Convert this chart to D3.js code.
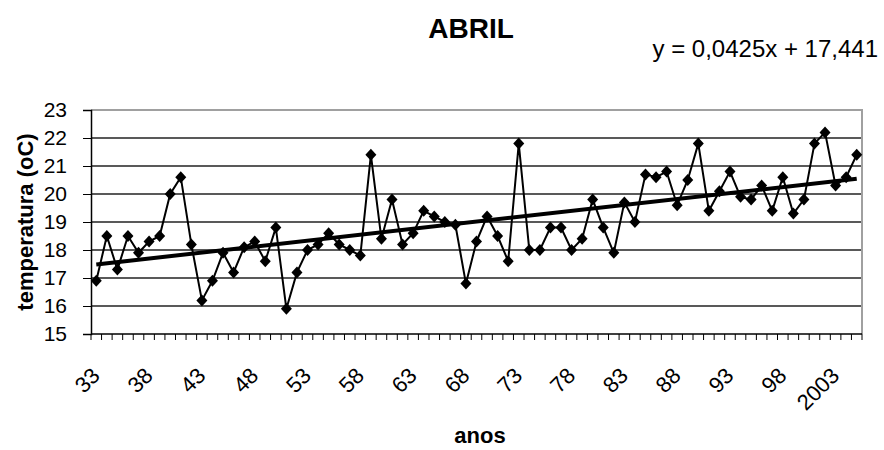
<!DOCTYPE html>
<html>
<head>
<meta charset="utf-8">
<script src="https://cdn.jsdelivr.net/npm/d3@7"></script>
<style>
  body { margin: 0; background: #fff; }
  text { font-family: "Liberation Sans", Arial, sans-serif; fill: #000; }
</style>
</head>
<body>
<script>
// anos 1933..2005, temperatura media de abril (oC)
var years = d3.range(1933, 2006);
var temps = [16.9, 18.5, 17.3, 18.5, 17.9, 18.3, 18.5, 20.0, 20.6, 18.2,
             16.2, 16.9, 17.9, 17.2, 18.1, 18.3, 17.6, 18.8, 15.9, 17.2,
             18.0, 18.2, 18.6, 18.2, 18.0, 17.8, 21.4, 18.4, 19.8, 18.2,
             18.6, 19.4, 19.2, 19.0, 18.9, 16.8, 18.3, 19.2, 18.5, 17.6,
             21.8, 18.0, 18.0, 18.8, 18.8, 18.0, 18.4, 19.8, 18.8, 17.9,
             19.7, 19.0, 20.7, 20.6, 20.8, 19.6, 20.5, 21.8, 19.4, 20.1,
             20.8, 19.9, 19.8, 20.3, 19.4, 20.6, 19.3, 19.8, 21.8, 22.2,
             20.3, 20.6, 21.4];
var tickYears = [1933, 1938, 1943, 1948, 1953, 1958, 1963, 1968, 1973, 1978, 1983, 1988, 1993, 1998, 2003];
var yTicks = [15, 16, 17, 18, 19, 20, 21, 22, 23];
// linha de tendencia do Excel
var slope = 0.0425, intercept = 17.441;

var width = 884, height = 450;
var margin = {top: 110, right: 22, bottom: 116, left: 91};
var w = width - margin.left - margin.right,
    h = height - margin.top - margin.bottom;

var svg = d3.select("body").append("svg")
    .attr("width", width)
    .attr("height", height);

var x = d3.scaleBand()
    .domain(years)
    .range([0, w]);
var y = d3.scaleLinear()
    .domain([15, 23])
    .range([h, 0]);

var g = svg.append("g")
    .attr("transform", "translate(" + margin.left + "," + margin.top + ")");

function cx(yr) { return x(yr) + x.bandwidth() / 2; }

// grid lines
g.selectAll(".grid")
    .data(yTicks.slice(1, -1))
  .enter().append("line")
    .attr("x1", 0).attr("x2", w)
    .attr("y1", function(d) { return y(d); })
    .attr("y2", function(d) { return y(d); })
    .attr("stroke", "#222")
    .attr("stroke-width", 1.5);

// plot border top / right
g.append("path")
    .attr("d", "M0," + y(23) + "H" + w + "V" + h)
    .attr("fill", "none")
    .attr("stroke", "#a0a0a0")
    .attr("stroke-width", 2);

// x axis (category boundaries as ticks)
var xb = years.map(function(d) { return x(d); }).concat([w]);
g.selectAll(".xt")
    .data(xb)
  .enter().append("line")
    .attr("x1", function(d) { return d; })
    .attr("x2", function(d) { return d; })
    .attr("y1", h).attr("y2", h + 6)
    .attr("stroke", "#000").attr("stroke-width", 1);
g.append("line")
    .attr("x1", 0).attr("x2", w)
    .attr("y1", h).attr("y2", h)
    .attr("stroke", "#000").attr("stroke-width", 1.5);

g.selectAll(".xl")
    .data(tickYears)
  .enter().append("text")
    .attr("transform", function(d) {
      return "translate(" + (cx(d) + 5) + "," + (h + 43) + ") rotate(-45)";
    })
    .attr("text-anchor", "end")
    .style("font-size", "22px")
    .text(function(d) { return d >= 2000 ? String(d) : String(d).slice(2); });

// y axis
var yAxis = d3.axisLeft(y)
    .tickValues(yTicks)
    .tickSize(8)
    .tickPadding(16)
    .tickFormat(d3.format("d"));
var ya = g.append("g").call(yAxis);
ya.select(".domain").attr("stroke", "#000").attr("stroke-width", 1.5);
ya.selectAll(".tick line").attr("stroke", "#000");
ya.selectAll(".tick text")
    .style("font-size", "21px")
    .style("font-family", "Liberation Sans, Arial, sans-serif")
    .attr("fill", "#000");

// serie
var line = d3.line()
    .x(function(d, i) { return cx(years[i]); })
    .y(function(d) { return y(d); });
g.append("path")
    .datum(temps)
    .attr("d", line)
    .attr("fill", "none")
    .attr("stroke", "#000")
    .attr("stroke-width", 2);

g.selectAll(".pt")
    .data(temps)
  .enter().append("path")
    .attr("transform", function(d, i) {
      return "translate(" + cx(years[i]) + "," + y(d) + ")";
    })
    .attr("d", "M0,-6L5.5,0L0,6L-5.5,0Z")
    .attr("fill", "#000");

// tendencia
var trend = d3.line()
    .x(function(d) { return cx(d); })
    .y(function(d) { return y(slope * (d - 1932) + intercept); });
g.append("path")
    .datum([years[0], years[years.length - 1]])
    .attr("d", trend)
    .attr("fill", "none")
    .attr("stroke", "#000")
    .attr("stroke-width", 4);

// titles
svg.append("text")
    .attr("x", 471).attr("y", 38)
    .attr("text-anchor", "middle")
    .style("font-size", "28px")
    .style("font-weight", "bold")
    .text("ABRIL");

svg.append("text")
    .attr("x", 878).attr("y", 57)
    .attr("text-anchor", "end")
    .style("font-size", "24px")
    .text("y = 0,0425x + 17,441");

svg.append("text")
    .attr("x", 480).attr("y", 443)
    .attr("text-anchor", "middle")
    .style("font-size", "22px")
    .style("font-weight", "bold")
    .text("anos");

svg.append("text")
    .attr("transform", "translate(33," + (margin.top + h / 2) + ") rotate(-90)")
    .attr("text-anchor", "middle")
    .style("font-size", "22px")
    .style("font-weight", "bold")
    .text("temperatura (oC)");
</script>
</body>
</html>
